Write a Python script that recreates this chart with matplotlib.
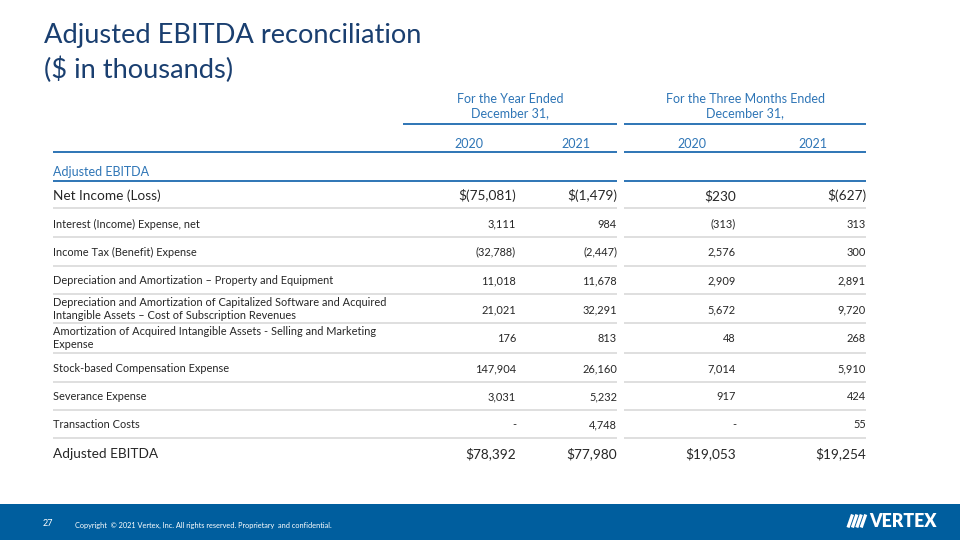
import matplotlib.pyplot as plt

plt.rcParams['font.family'] = ['Lato', 'DejaVu Sans']

title_lines = ["Adjusted EBITDA reconciliation", "($ in thousands)"]
group_headers = ["For the Year Ended\nDecember 31,", "For the Three Months Ended\nDecember 31,"]
years = ["2020", "2021", "2020", "2021"]
section_label = "Adjusted EBITDA"

row_labels = [
    "Net Income (Loss)",
    "Interest (Income) Expense, net",
    "Income Tax (Benefit) Expense",
    "Depreciation and Amortization \u2013 Property and Equipment",
    "Depreciation and Amortization of Capitalized Software and Acquired\nIntangible Assets \u2013 Cost of Subscription Revenues",
    "Amortization of Acquired Intangible Assets - Selling and Marketing\nExpense",
    "Stock-based Compensation Expense",
    "Severance Expense",
    "Transaction Costs",
    "Adjusted EBITDA",
]
year_2020 = [-75081, 3111, -32788, 11018, 21021, 176, 147904, 3031, 0, 78392]
year_2021 = [-1479, 984, -2447, 11678, 32291, 813, 26160, 5232, 4748, 77980]
q4_2020 = [230, -313, 2576, 2909, 5672, 48, 7014, 917, 0, 19053]
q4_2021 = [-627, 313, 300, 2891, 9720, 268, 5910, 424, 55, 19254]
columns = [year_2020, year_2021, q4_2020, q4_2021]
big_rows = [0, 9]

footer_page = "27"
footer_text = "Copyright  \u00a9 2021 Vertex, Inc. All rights reserved. Proprietary  and confidential."

NAVY = '#1a3f70'
BLUE = '#2e75b6'
TEXT = '#262626'
GRID = '#d9d9d9'
BAND = '#005e9e'


def fmt(v, dollar):
    if v == 0:
        return "-"
    s = f"{abs(v):,}"
    if v < 0:
        s = f"({s})"
    return ("$" + s) if dollar else s


fig = plt.figure(figsize=(9.6, 5.4), dpi=100)
ax = fig.add_axes([0, 0, 1, 1])
ax.set_xlim(0, 960)
ax.set_ylim(540, 0)
ax.axis('off')

# title
ax.text(44, 36, title_lines[0], fontsize=19.6, color=NAVY, va='center', ha='left')
ax.text(44, 70, title_lines[1], fontsize=19.6, color=NAVY, va='center', ha='left')

# column geometry
spans = [(403, 617), (624, 866)]
full_spans = [(53, 617), (624, 866)]
right_edges = [516, 617, 736, 866]
year_centers = [469, 576, 692, 813]

for (x0, x1), hdr in zip(spans, group_headers):
    ax.text((x0 + x1) / 2, 106, hdr, fontsize=9, color=BLUE, ha='center', va='center',
            linespacing=1.25)
    ax.plot([x0, x1], [124, 124], color=BLUE, lw=1.4, solid_capstyle='butt')

for xc, yr in zip(year_centers, years):
    ax.text(xc, 143, yr, fontsize=9, color=BLUE, ha='center', va='center_baseline')

for y in (152, 181):
    for x0, x1 in full_spans:
        ax.plot([x0, x1], [y, y], color=BLUE, lw=1.4, solid_capstyle='butt')

ax.text(53, 171, section_label, fontsize=9, color=BLUE, ha='left', va='center_baseline')

# body rows
row_y = [195, 223, 251, 280, 309, 338, 368, 396, 424, 453]
line_y = [208, 237, 266, 294, 323, 353, 382, 410, 438]

for i, (lab, y) in enumerate(zip(row_labels, row_y)):
    big = i in big_rows
    fs = 9.8 if big else 7.9
    if "\n" in lab:
        ax.text(53, y, lab, fontsize=fs, color=TEXT, ha='left', va='center', linespacing=1.3)
    else:
        ax.text(53, y, lab, fontsize=fs, color=TEXT, ha='left', va='center_baseline')
    for col, xr in zip(columns, right_edges):
        ax.text(xr, y, fmt(col[i], big), fontsize=fs, color=TEXT, ha='right',
                va='center_baseline')

for y in line_y:
    for x0, x1 in full_spans:
        ax.plot([x0, x1], [y, y], color=GRID, lw=1.2, solid_capstyle='butt')

# footer band
ax.add_patch(plt.Rectangle((0, 504), 960, 36, color=BAND, lw=0))
ax.text(43, 524, footer_page, fontsize=6.5, color='white', ha='left', va='center')
ax.text(75, 525, footer_text, fontsize=5.3, color='white', ha='left', va='center')

# logo
for k in range(4):
    x = 848 + k * 4.4
    ax.plot([x, x + 4.5], [527.5, 514.5], color='white', lw=2.3, solid_capstyle='butt')
ax.text(869, 521.5, "VERTEX", fontsize=12.8, fontweight='heavy', color='white',
        ha='left', va='center')

fig.savefig('out.png', dpi=100)
